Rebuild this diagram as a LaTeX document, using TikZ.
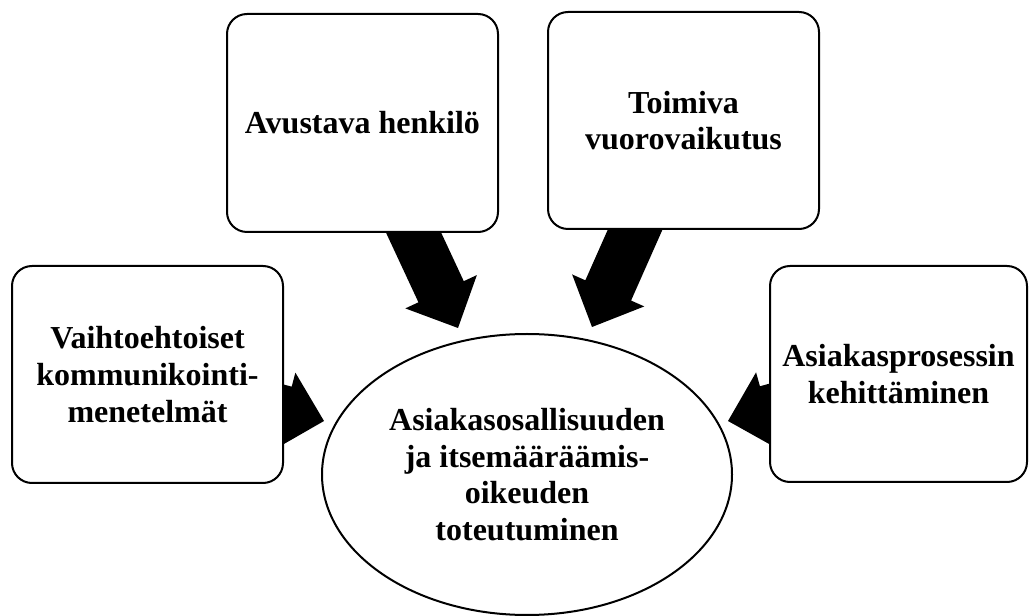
\documentclass[tikz,border=0pt]{standalone}
\usepackage{fontspec}
\setmainfont{Liberation Serif}
\usetikzlibrary{calc,backgrounds,shapes.geometric}
\newcommand\blockarr[2]{%
  \coordinate (#2h) at ($(#2)!30pt!(#1.center)$);
  \fill[arrowfill] ($(#1.center)!18.75pt!90:(#2)$) -- ($(#2h)!18.75pt!90:(#2)$)
    -- ($(#2h)!29.6pt!90:(#2)$) -- (#2) -- ($(#2h)!29.6pt!-90:(#2)$)
    -- ($(#2h)!18.75pt!-90:(#2)$) -- ($(#1.center)!18.75pt!-90:(#2)$) -- cycle;}
\tikzset{
  box/.style={draw=black, line width=1.5pt, fill=white, rounded corners=15pt,
    align=center, inner sep=0pt, font=\fontsize{24}{27.5}\selectfont\bfseries},
  oval/.style={ellipse, draw=black, line width=1.5pt, fill=white, align=center,
    inner sep=0pt, font=\fontsize{24}{27.5}\selectfont\bfseries},
  arrowfill/.style={fill=black}
}
\begin{document}
\begin{tikzpicture}[x=0.75pt,y=-0.75pt]
\useasboundingbox (0,0) rectangle (1029,616);
\node[box, minimum width=203.25pt, minimum height=163.5pt] (b1) at (362.5,123) {Avustava henkilö};
\node[box, minimum width=203.25pt, minimum height=162.75pt] (b2) at (683.5,120.5) {Toimiva\\vuorovaikutus};
\node[box, minimum width=203.25pt, minimum height=162.75pt] (b3) at (147.5,374.5) {Vaihtoehtoiset\\kommunikointi-\\menetelmät};
\node[box, minimum width=192.75pt, minimum height=162pt] (b4) at (898.5,374) {Asiakasprosessin\\kehittäminen};
\node[oval, minimum width=307.5pt, minimum height=210.75pt] (c) at (527,474.5) {Asiakasosallisuuden\\ja itsemääräämis-\\oikeuden\\toteutuminen};
\coordinate (t1) at (458,328);
\coordinate (t2) at (592,327);
\coordinate (t3) at (324,421);
\coordinate (t4) at (728,421);
\begin{pgfonlayer}{background}
\blockarr{b1}{t1}
\blockarr{b2}{t2}
\blockarr{b3}{t3}
\blockarr{b4}{t4}
\end{pgfonlayer}
\end{tikzpicture}
\end{document}
